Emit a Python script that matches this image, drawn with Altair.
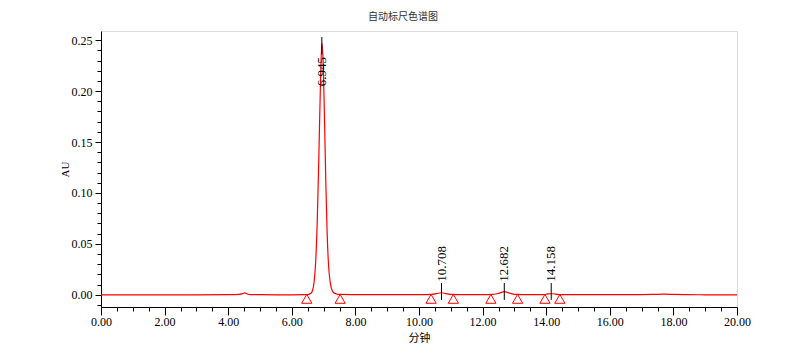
import altair as alt
import pandas as pd

# chromatogram trace (minutes, AU)
time_min = [0, 1, 2, 3, 4, 4.35, 4.45, 4.52, 4.6, 4.7, 5, 5.5, 6, 6.4, 6.5, 6.6, 6.65, 6.7,
            6.75, 6.8, 6.85, 6.9, 6.945, 6.99, 7.03, 7.07, 7.11, 7.15, 7.2, 7.25, 7.3, 7.4,
            7.5, 8, 9, 10, 10.4, 10.55, 10.708, 10.85, 11.0, 11.5, 12, 12.3, 12.5, 12.682,
            12.85, 13.05, 13.5, 13.9, 14.05, 14.158, 14.3, 14.45, 15, 16, 17, 17.4, 17.7,
            18.0, 19, 20]
au = [0.0, 0.0, 0.0, 0.0, 0.0001, 0.0003, 0.0012, 0.0018, 0.0008, 0.0002, 0.0001, 0.0, 0.0,
      0.0001, 0.0002, 0.0015, 0.004, 0.012, 0.032, 0.072, 0.135, 0.205, 0.247, 0.225, 0.170,
      0.110, 0.062, 0.032, 0.014, 0.006, 0.0025, 0.0008, 0.0003, 0.0002, 0.0001, 0.0001,
      0.0003, 0.0012, 0.0020, 0.0012, 0.0003, 0.0001, 0.0001, 0.0003, 0.0014, 0.0030,
      0.0016, 0.0003, 0.0001, 0.0002, 0.0008, 0.0010, 0.0007, 0.0002, 0.0001, 0.0001,
      0.0002, 0.0004, 0.0006, 0.0003, 0.0, -0.0001]

# integration markers (peak start / end)
marker_time = [6.47, 7.52, 10.38, 11.08, 12.26, 13.10, 13.96, 14.43]
marker_au = [-0.004, -0.004, -0.004, -0.004, -0.004, -0.004, -0.004, -0.004]

# peak retention-time labels
main_rt = [6.945]
main_label = ["6.945"]
main_tick_low = [0.236]
main_tick_high = [0.253]
main_text_at = [0.2335]

minor_rt = [10.708, 12.682, 14.158]
minor_label = ["10.708", "12.682", "14.158"]
minor_tick_low = [-0.005, -0.005, -0.005]
minor_tick_high = [0.0115, 0.0115, 0.0115]
minor_text_at = [0.0128, 0.0128, 0.0128]

x_major = [0, 2, 4, 6, 8, 10, 12, 14, 16, 18, 20]
x_minor = [0.5, 1, 1.5, 2.5, 3, 3.5, 4.5, 5, 5.5, 6.5, 7, 7.5, 8.5, 9, 9.5, 10.5, 11, 11.5,
           12.5, 13, 13.5, 14.5, 15, 15.5, 16.5, 17, 17.5, 18.5, 19, 19.5]
y_major = [0.0, 0.05, 0.10, 0.15, 0.20, 0.25]
y_minor = [-0.01, 0.01, 0.02, 0.03, 0.04, 0.06, 0.07, 0.08, 0.09, 0.11, 0.12, 0.13, 0.14,
           0.16, 0.17, 0.18, 0.19, 0.21, 0.22, 0.23, 0.24]

SERIF = "Liberation Serif"
CJK = "Noto Sans CJK SC"

trace = pd.DataFrame({"t": time_min, "au": au})
markers = pd.DataFrame({"t": marker_time, "au": marker_au})
main_df = pd.DataFrame({"t": main_rt, "lab": main_label, "lo": main_tick_low,
                        "hi": main_tick_high, "ty": main_text_at})
minor_df = pd.DataFrame({"t": minor_rt, "lab": minor_label, "lo": minor_tick_low,
                         "hi": minor_tick_high, "ty": minor_text_at})

xscale = alt.Scale(domain=[0, 20], nice=False, zero=False)
yscale = alt.Scale(domain=[-0.012, 0.259], nice=False, zero=False)

xaxis = alt.Axis(
    values=x_major, format=".2f", orient="bottom", tickSize=8,
    labelPadding=1, labelOverlap=False, labelFlush=False,
    labelFont=SERIF, labelFontSize=12, labelColor="#000",
    domainColor="#000", tickColor="#000", grid=False,
    title="分钟", titleFont=CJK, titleFontSize=11, titleFontWeight="normal",
    titleColor="#000", titleX=318, titleY=31, titleBaseline="middle", titleAlign="center",
)
yaxis = alt.Axis(
    values=y_major, format=".2f", orient="left", tickSize=6,
    labelPadding=3, labelOverlap=False, labelFlush=False,
    labelFont=SERIF, labelFontSize=12, labelColor="#000",
    domainColor="#000", tickColor="#000", grid=False,
    title="AU", titleFont=SERIF, titleFontSize=11, titleFontWeight="normal",
    titleColor="#000", titleX=-36, titleY=138, titleBaseline="middle", titleAlign="center",
    titleAngle=270,
)
xaxis_minor = alt.Axis(values=x_minor, orient="bottom", tickSize=4, labels=False,
                       domain=False, grid=False, title=None, tickColor="#000")
yaxis_minor = alt.Axis(values=y_minor, orient="left", tickSize=4, labels=False,
                       domain=False, grid=False, title=None, tickColor="#000")

line = alt.Chart(trace).mark_line(color="#ff0000", strokeWidth=1.2, interpolate="monotone").encode(
    x=alt.X("t:Q", scale=xscale, axis=xaxis),
    y=alt.Y("au:Q", scale=yscale, axis=yaxis),
)

tri = alt.Chart(markers).mark_point(shape="triangle-up", filled=False, color="#ff0000",
                                    size=105, strokeWidth=1, opacity=1).encode(
    x=alt.X("t:Q", scale=xscale, axis=xaxis_minor),
    y=alt.Y("au:Q", scale=yscale, axis=yaxis_minor))

main_rule = alt.Chart(main_df).mark_rule(color="#000", strokeWidth=1).encode(
    x=alt.X("t:Q", axis=None), y=alt.Y("lo:Q", axis=None), y2="hi")
main_text = alt.Chart(main_df).mark_text(angle=270, align="right", baseline="middle",
                                         font=SERIF, fontSize=13, color="#000").encode(
    x=alt.X("t:Q", axis=None), y=alt.Y("ty:Q", axis=None), text="lab:N")

minor_rule = alt.Chart(minor_df).mark_rule(color="#000", strokeWidth=1).encode(
    x=alt.X("t:Q", axis=None), y=alt.Y("lo:Q", axis=None), y2="hi")
minor_text = alt.Chart(minor_df).mark_text(angle=270, align="left", baseline="middle",
                                           font=SERIF, fontSize=13, color="#000").encode(
    x=alt.X("t:Q", axis=None), y=alt.Y("ty:Q", axis=None), text="lab:N")

chart = alt.layer(line, main_rule, main_text, minor_rule, minor_text, tri).resolve_axis(
    x="independent", y="independent"
).properties(
    width=636, height=276,
    title=alt.TitleParams("自动标尺色谱图", font=CJK, fontSize=10, fontWeight="normal",
                          color="#333", offset=9, dx=-16),
    autosize=alt.AutoSizeParams(type="none"),
    padding={"left": 101, "top": 31, "right": 50, "bottom": 49},
).configure_view(stroke="#555", strokeWidth=1).configure(background="white")

chart.save("out.html", embed_options={"renderer": "svg", "actions": False})
